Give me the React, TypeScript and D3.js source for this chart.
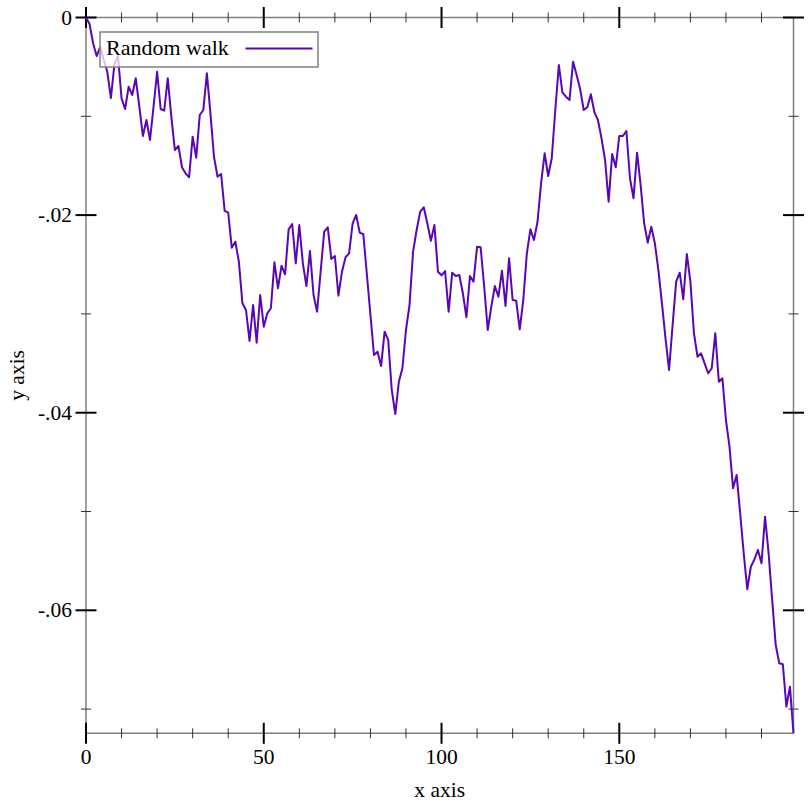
import React from "react";
import * as d3 from "d3";

const walkValues: number[] = [
  0, -0.00066, -0.00261, -0.0039, -0.00296, -0.0043, -0.00552, -0.00815, -0.00471, -0.0039,
  -0.00818, -0.00926, -0.007, -0.00784, -0.00615, -0.00903, -0.01199, -0.01037, -0.0124, -0.00903,
  -0.00549, -0.00926, -0.00943, -0.00615, -0.01004, -0.01341, -0.01301, -0.01516, -0.01577, -0.01617,
  -0.01206, -0.01419, -0.00987, -0.00936, -0.00565, -0.0097, -0.01409, -0.01611, -0.01584, -0.01958,
  -0.01976, -0.0233, -0.02269, -0.02472, -0.02893, -0.0296, -0.03274, -0.0291, -0.03291, -0.02809,
  -0.03129, -0.02994, -0.02943, -0.02478, -0.02741, -0.02512, -0.02599, -0.02144, -0.0209, -0.02488,
  -0.021, -0.02488, -0.02718, -0.02363, -0.02809, -0.02978, -0.02573, -0.02168, -0.02123, -0.02444,
  -0.02414, -0.02816, -0.02573, -0.02427, -0.02387, -0.02083, -0.01999, -0.02178, -0.02194, -0.02599,
  -0.03008, -0.03416, -0.03382, -0.03527, -0.0318, -0.03264, -0.0377, -0.04013, -0.03686, -0.0355,
  -0.03163, -0.0291, -0.0237, -0.02151, -0.01966, -0.01921, -0.02083, -0.02259, -0.021, -0.02573,
  -0.02609, -0.02566, -0.02978, -0.02583, -0.02616, -0.02606, -0.02791, -0.03034, -0.02616, -0.02674,
  -0.0232, -0.02326, -0.02725, -0.03163, -0.02927, -0.02718, -0.02826, -0.02563, -0.0292, -0.02437,
  -0.02859, -0.02866, -0.03156, -0.02859, -0.02387, -0.02144, -0.02252, -0.02067, -0.01678, -0.01374,
  -0.01604, -0.01425, -0.00936, -0.00481, -0.00757, -0.00802, -0.00835, -0.00447, -0.00582, -0.00727,
  -0.00936, -0.00909, -0.00777, -0.00959, -0.01037, -0.01223, -0.01442, -0.01864, -0.01382, -0.01516,
  -0.01199, -0.01199, -0.01149, -0.01627, -0.0183, -0.01368, -0.01695, -0.02083, -0.02279, -0.02117,
  -0.02285, -0.02556, -0.02893, -0.03247, -0.03568, -0.03112, -0.02674, -0.02583, -0.02852, -0.02394,
  -0.02674, -0.03196, -0.03433, -0.03399, -0.035, -0.03601, -0.0355, -0.03196, -0.03686, -0.03652,
  -0.04074, -0.04344, -0.04765, -0.0463, -0.05018, -0.05423, -0.05787, -0.05559, -0.05484, -0.05389,
  -0.05524, -0.05052, -0.05423, -0.05895, -0.06351, -0.06536, -0.06546, -0.06975, -0.06773, -0.07245,
];

const xMajorTicks: number[] = [0, 50, 100, 150];
const xMajorLabels: string[] = ["0", "50", "100", "150"];
const xMinorTicks: number[] = [10, 20, 30, 40, 60, 70, 80, 90, 110, 120, 130, 140, 160, 170, 180, 190];
const yMajorTicks: number[] = [0, -0.02, -0.04, -0.06];
const yMajorLabels: string[] = ["0", "-.02", "-.04", "-.06"];
const yMinorTicks: number[] = [-0.01, -0.03, -0.05, -0.07];
const seriesLabel = "Random walk";
const xAxisLabel = "x axis";
const yAxisLabel = "y axis";

const W = 812;
const H = 812;
const LEFT = 86;
const RIGHT = 793.5;
const TOP = 17.5;
const BOTTOM = 733.3;
const LINE_COLOR = "#5a06b6";
const AXIS_COLOR = "#808080";
const FONT = "'Liberation Serif', 'Times New Roman', serif";

export default function App() {
  const x = d3.scaleLinear().domain([0, walkValues.length - 1]).range([LEFT, RIGHT]);
  const y = d3
    .scaleLinear()
    .domain([d3.min(walkValues) as number, d3.max(walkValues) as number])
    .range([BOTTOM, TOP]);

  const line = d3
    .line<number>()
    .x((_, i) => x(i))
    .y((d) => y(d));

  const path = line(walkValues) || "";

  const majorLen = 10.5;
  const minorLen = 5;

  return (
    <svg
      width={W}
      height={H}
      viewBox={`0 0 ${W} ${H}`}
      style={{ position: "absolute", left: 0, top: 0, background: "#fff" }}
    >
      <rect x={0} y={0} width={W} height={H} fill="#fff" />
      <g stroke={AXIS_COLOR} strokeWidth={1.5} fill="none">
        <line x1={LEFT} y1={BOTTOM} x2={RIGHT} y2={BOTTOM} />
        <line x1={LEFT} y1={TOP} x2={RIGHT} y2={TOP} />
        <line x1={LEFT} y1={TOP} x2={LEFT} y2={BOTTOM} />
        <line x1={RIGHT} y1={TOP} x2={RIGHT} y2={BOTTOM} />
      </g>
      <g stroke="#000">
        {xMajorTicks.map((t) => (
          <g key={"xM" + t}>
            <line x1={x(t)} x2={x(t)} y1={BOTTOM - majorLen} y2={BOTTOM + majorLen} strokeWidth={2} />
            <line x1={x(t)} x2={x(t)} y1={TOP - majorLen} y2={TOP + majorLen} strokeWidth={2} />
          </g>
        ))}
        {xMinorTicks.map((t) => (
          <g key={"xm" + t}>
            <line x1={x(t)} x2={x(t)} y1={BOTTOM - minorLen} y2={BOTTOM + minorLen} strokeWidth={1} stroke="#333" />
            <line x1={x(t)} x2={x(t)} y1={TOP - minorLen} y2={TOP + minorLen} strokeWidth={1} stroke="#333" />
          </g>
        ))}
        {yMajorTicks.map((t) => (
          <g key={"yM" + t}>
            <line x1={LEFT - majorLen} x2={LEFT + majorLen} y1={y(t)} y2={y(t)} strokeWidth={2} />
            <line x1={RIGHT - majorLen} x2={RIGHT + majorLen} y1={y(t)} y2={y(t)} strokeWidth={2} />
          </g>
        ))}
        {yMinorTicks.map((t) => (
          <g key={"ym" + t}>
            <line x1={LEFT - minorLen} x2={LEFT + minorLen} y1={y(t)} y2={y(t)} strokeWidth={1} stroke="#333" />
            <line x1={RIGHT - minorLen} x2={RIGHT + minorLen} y1={y(t)} y2={y(t)} strokeWidth={1} stroke="#333" />
          </g>
        ))}
      </g>
      <g fontFamily={FONT} fontSize={21.5} fill="#000">
        {xMajorTicks.map((t, i) => (
          <text key={"xl" + t} x={x(t)} y={764} textAnchor="middle">
            {xMajorLabels[i]}
          </text>
        ))}
        {yMajorTicks.map((t, i) => (
          <text key={"yl" + t} x={72} y={y(t) + 7} textAnchor="end">
            {yMajorLabels[i]}
          </text>
        ))}
        <text x={(LEFT + RIGHT) / 2} y={797} textAnchor="middle">
          {xAxisLabel}
        </text>
        <text transform={`translate(24, ${(TOP + BOTTOM) / 2}) rotate(-90)`} textAnchor="middle">
          {yAxisLabel}
        </text>
      </g>
      <path d={path} fill="none" stroke={LINE_COLOR} strokeWidth={2} strokeLinejoin="round" />
      <g>
        <rect x={100} y={32} width={218} height={35} fill="#fff" fillOpacity={0.75} stroke={AXIS_COLOR} strokeWidth={1.5} />
        <text x={106} y={55} fontFamily={FONT} fontSize={22} fill="#000">
          {seriesLabel}
        </text>
        <line x1={245.5} x2={312.5} y1={48.5} y2={48.5} stroke={LINE_COLOR} strokeWidth={2} />
      </g>
    </svg>
  );
}
